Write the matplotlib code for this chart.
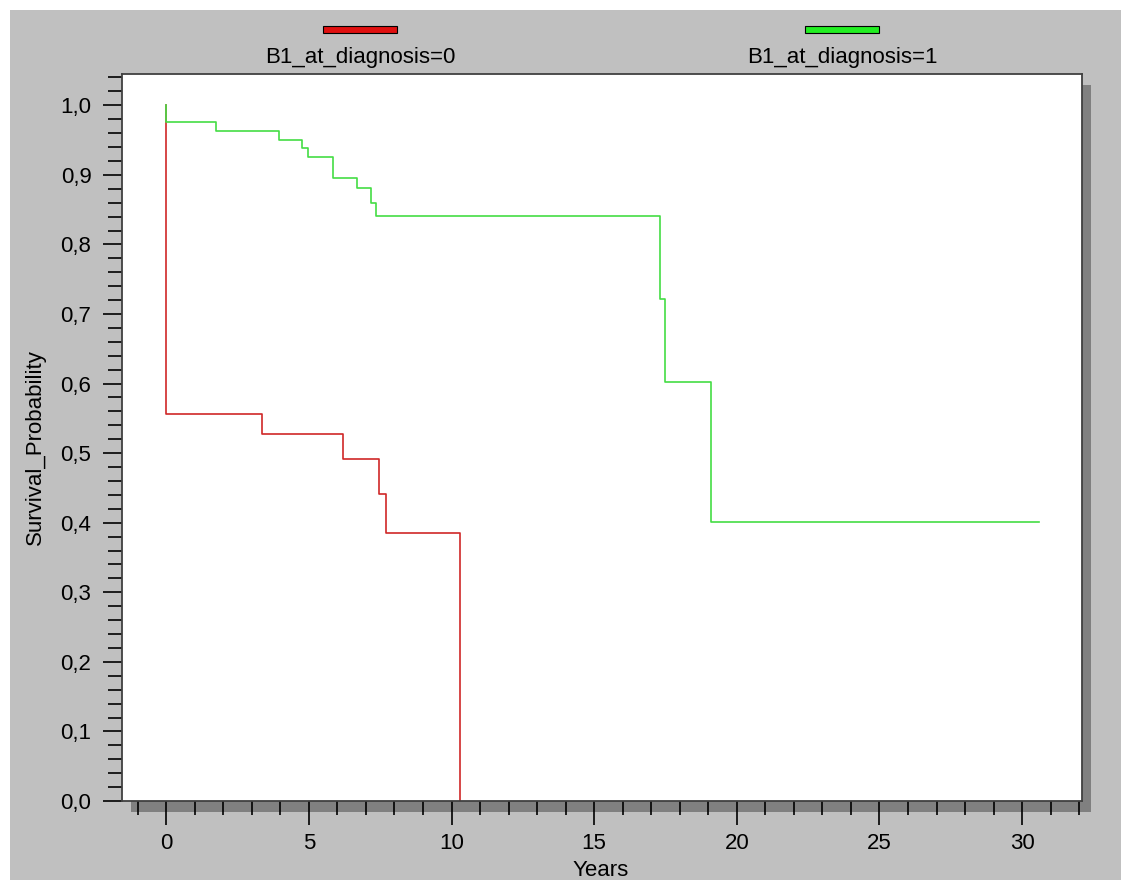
import matplotlib
matplotlib.use("Agg")
import matplotlib.pyplot as plt
from matplotlib.patches import Rectangle
from matplotlib.ticker import FixedLocator, MultipleLocator

plt.rcParams["font.family"] = ["Liberation Sans", "DejaVu Sans"]

# Kaplan-Meier steps
years_b0 = [0.0, 0.0, 3.36, 6.19, 7.46, 7.69, 10.29]
surv_b0 = [1.0, 0.556, 0.528, 0.491, 0.441, 0.385, 0.0]
years_b1 = [0.0, 0.0, 1.76, 3.95, 4.77, 4.96, 5.86, 6.70, 7.19, 7.37, 17.32, 17.5, 19.1, 30.6]
surv_b1 = [1.0, 0.976, 0.963, 0.950, 0.938, 0.926, 0.896, 0.881, 0.860, 0.841, 0.722, 0.602, 0.401, 0.401]
group_labels = ["B1_at_diagnosis=0", "B1_at_diagnosis=1"]

x_ticks = [0, 5, 10, 15, 20, 25, 30]
y_ticks = [0.0, 0.1, 0.2, 0.3, 0.4, 0.5, 0.6, 0.7, 0.8, 0.9, 1.0]
y_tick_labels = ["0,0", "0,1", "0,2", "0,3", "0,4", "0,5", "0,6", "0,7", "0,8", "0,9", "1,0"]

W, H = 1121, 880
fig = plt.figure(figsize=(W / 100, H / 100), dpi=100)
fig.patch.set_facecolor("#c0c0c0")

# white margins top / left
fig.add_artist(Rectangle((0, 1 - 10 / H), 1, 10 / H, transform=fig.transFigure,
                         facecolor="white", edgecolor="none", zorder=-2))
fig.add_artist(Rectangle((0, 0), 10 / W, 1, transform=fig.transFigure,
                         facecolor="white", edgecolor="none", zorder=-2))

left, right, top, bottom = 122, 1082, 74, 801
# drop shadow behind plot area
fig.add_artist(Rectangle(((left + 9) / W, 1 - (bottom + 11) / H), (right - left) / W,
                         (bottom - top) / H, transform=fig.transFigure,
                         facecolor="#808080", edgecolor="none", zorder=-1))

ax = fig.add_axes([left / W, 1 - bottom / H, (right - left) / W, (bottom - top) / H])
ax.set_facecolor("white")

ax.plot(years_b0, surv_b0, drawstyle="steps-post", color="#d02828", lw=1.2)
ax.plot(years_b1, surv_b1, drawstyle="steps-post", color="#44dd44", lw=1.2)

ax.set_xlim(-1.55, 32.1)
ax.set_ylim(0, 1.045)

ax.xaxis.set_major_locator(FixedLocator(x_ticks))
ax.xaxis.set_minor_locator(FixedLocator(list(range(-1, 33))))
ax.yaxis.set_major_locator(FixedLocator(y_ticks))
ax.set_yticklabels(y_tick_labels)
ax.yaxis.set_minor_locator(MultipleLocator(0.02))

ax.tick_params(axis="x", which="major", length=17, width=1.2, pad=6, labelsize=16)
ax.tick_params(axis="x", which="minor", length=10, width=1.2)
ax.tick_params(axis="y", which="major", length=14, width=1.2, pad=8, labelsize=16)
ax.tick_params(axis="y", which="minor", length=10, width=1.2)

for sp in ax.spines.values():
    sp.set_color("#404040")
    sp.set_linewidth(1.3)

fig.text(601 / W, 1 - 870 / H, "Years", ha="center", va="center", fontsize=16)
fig.text(35 / W, 1 - 447 / H, "Survival_Probability", rotation=90,
         ha="center", va="center", fontsize=16)

# legend across the top
legend_colors = ["#e01010", "#22ee22"]
legend_x = [360, 842]
for cx, col, lab in zip(legend_x, legend_colors, group_labels):
    fig.add_artist(Rectangle(((cx - 37) / W, 1 - 33 / H), 74 / W, 7 / H,
                             transform=fig.transFigure, facecolor=col,
                             edgecolor="black", lw=0.8))
    fig.text(cx / W, 1 - 57 / H, lab, ha="center", va="center", fontsize=16)

plt.savefig("out.png", dpi=100, facecolor=fig.get_facecolor())
